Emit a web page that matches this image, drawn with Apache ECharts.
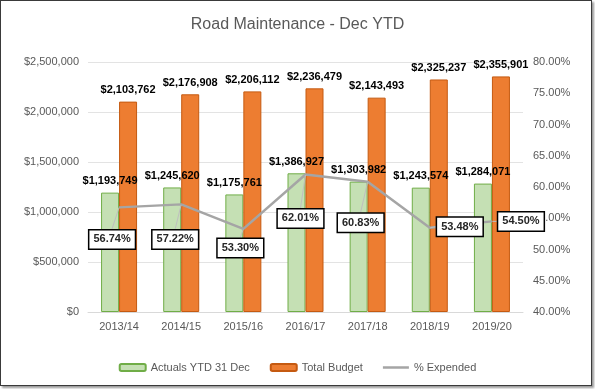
<!DOCTYPE html>
<html><head><meta charset="utf-8">
<script src="https://cdn.jsdelivr.net/npm/echarts@6/dist/echarts.min.js"></script>
<style>
html,body{margin:0;padding:0;background:#fff;}
#frame{position:absolute;left:0;top:0;width:592px;height:386px;border:1.5px solid #3a3a3a;box-sizing:border-box;box-shadow:2px 2px 2px #9a9a9a;background:#fff;}
#chart{position:absolute;left:0;top:0;width:595px;height:389px;}
</style></head>
<body>
<div id="frame"></div>
<div id="chart"></div>
<script>
const categories = ['2013/14','2014/15','2015/16','2016/17','2017/18','2018/19','2019/20'];
const actuals = [1193749,1245620,1175761,1386927,1303982,1243574,1284071];
const budget = [2103762,2176908,2206112,2236479,2143493,2325237,2355901];
const pctExpended = [56.74,57.22,53.30,62.01,60.83,53.48,54.50];
const leftTicks = {min:0,max:2500000,interval:500000};
const rightTicks = {min:40,max:80,interval:5};
const pctLabelShift = [[-7,32],[-6,35],[-3,19],[-5,44],[-7,41],[30,-1],[29,0]];

const FONT = '"Liberation Sans", Arial, sans-serif';
const money = v => '$' + Math.round(v).toLocaleString('en-US');

const chart = echarts.init(document.getElementById('chart'), null, {renderer:'canvas'});
chart.setOption({
  animation:false,
  backgroundColor:'transparent',
  textStyle:{fontFamily:FONT},
  title:{text:'Road Maintenance - Dec YTD',left:'center',top:12,
    textStyle:{fontFamily:FONT,fontSize:16,fontWeight:'normal',color:'#595959'}},
  grid:{left:88,right:72,top:62,bottom:77,containLabel:false},
  legend:{bottom:11,left:'center',itemWidth:26,itemHeight:7,itemGap:20,
    textStyle:{fontFamily:FONT,fontSize:11,color:'#595959'},
    data:['Actuals YTD 31 Dec','Total Budget',
      {name:'% Expended',icon:'path://M0,0L26,0L26,2.5L0,2.5Z',itemStyle:{color:'#A5A5A5'}}]},
  xAxis:{type:'category',data:categories,
    axisLine:{lineStyle:{color:'#D9D9D9'}},axisTick:{show:false},
    axisLabel:{color:'#595959',fontSize:11,fontFamily:FONT,margin:9}},
  yAxis:[
    {type:'value',min:leftTicks.min,max:leftTicks.max,interval:leftTicks.interval,
     axisLabel:{color:'#595959',fontSize:11,fontFamily:FONT,formatter:money,margin:9},
     splitLine:{lineStyle:{color:'#E3E3E3'}},axisLine:{show:false},axisTick:{show:false}},
    {type:'value',min:rightTicks.min,max:rightTicks.max,interval:rightTicks.interval,
     axisLabel:{color:'#595959',fontSize:11,fontFamily:FONT,formatter:v=>v.toFixed(2)+'%',margin:10},
     splitLine:{show:false},axisLine:{show:false},axisTick:{show:false}}
  ],
  series:[
    {name:'Actuals YTD 31 Dec',type:'bar',data:actuals,barWidth:18,barGap:'0%',
     itemStyle:{color:'#C5E0B4',borderColor:'#70AD47',borderWidth:1},
     label:{show:true,position:'top',distance:6,formatter:p=>money(p.value),
       fontFamily:FONT,fontSize:11,fontWeight:'bold',color:'#000'}},
    {name:'Total Budget',type:'bar',data:budget,barWidth:18,barGap:'0%',
     itemStyle:{color:'#ED7D31',borderColor:'#C55A11',borderWidth:1},
     label:{show:true,position:'top',distance:6,formatter:p=>money(p.value),
       fontFamily:FONT,fontSize:11,fontWeight:'bold',color:'#000'}},
    {name:'% Expended',type:'line',yAxisIndex:1,data:pctExpended,
     symbol:'circle',symbolSize:1,showSymbol:true,
     lineStyle:{color:'#A5A5A5',width:2.5},itemStyle:{color:'#A5A5A5'},z:5,
     label:{show:true,position:'inside',formatter:p=>p.value.toFixed(2)+'%',
       fontFamily:FONT,fontSize:11,fontWeight:'bold',color:'#262626',
       backgroundColor:'#fff',borderColor:'#000',borderWidth:1.5,padding:[4,4,3,4]},
     labelLine:{show:true,lineStyle:{color:'#BFBFBF',width:1}},
     labelLayout:p=>({dx:pctLabelShift[p.dataIndex][0],dy:pctLabelShift[p.dataIndex][1]})}
  ]
});
</script>
</body></html>
